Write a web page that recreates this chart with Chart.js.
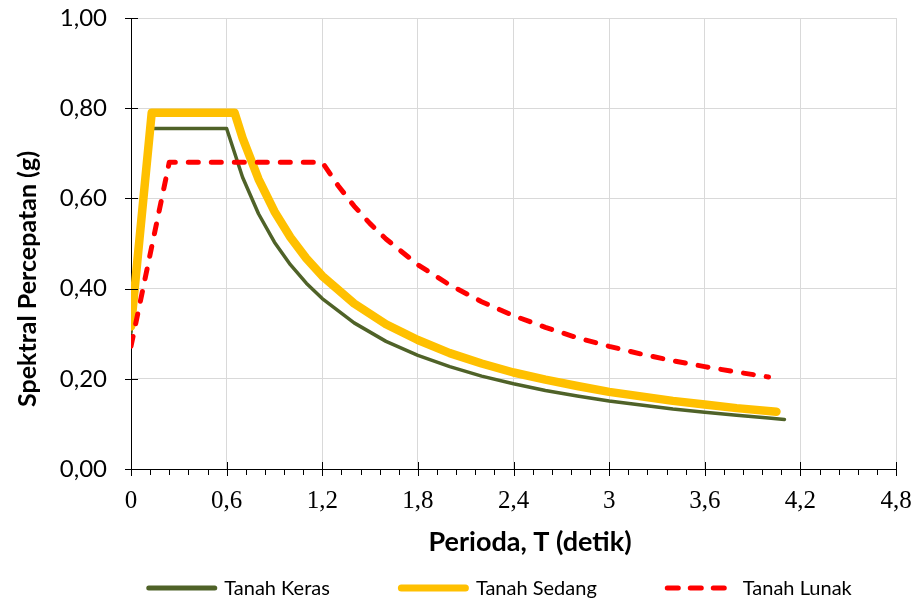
<!DOCTYPE html>
<html>
<head>
<meta charset="utf-8">
<script src="https://cdn.jsdelivr.net/npm/chart.js@4/dist/chart.umd.min.js"></script>
<style>
  html, body { margin: 0; padding: 0; background: #ffffff; }
  #wrap { width: 917px; height: 600px; }
</style>
</head>
<body>
<div id="wrap"><canvas id="c" width="917" height="600"></canvas></div>
<script>
// ---- Data ----
const seriesNames = ['Tanah Keras', 'Tanah Sedang', 'Tanah Lunak'];

const kerasT = [0, 0.12, 0.6, 0.7, 0.8, 0.9, 1.0, 1.1, 1.2, 1.4, 1.6, 1.8, 2.0, 2.2, 2.4, 2.6, 2.8, 3.0, 3.2, 3.4, 3.6, 3.8, 4.0, 4.1];
const kerasSa = [0.302, 0.755, 0.755, 0.647, 0.566, 0.503, 0.453, 0.412, 0.378, 0.324, 0.283, 0.252, 0.227, 0.206, 0.189, 0.174, 0.162, 0.151, 0.142, 0.133, 0.126, 0.119, 0.113, 0.110];

const sedangT = [0, 0.13, 0.65, 0.7, 0.8, 0.9, 1.0, 1.1, 1.2, 1.4, 1.6, 1.8, 2.0, 2.2, 2.4, 2.6, 2.8, 3.0, 3.2, 3.4, 3.6, 3.8, 4.05];
const sedangSa = [0.316, 0.790, 0.790, 0.734, 0.643, 0.571, 0.514, 0.467, 0.428, 0.367, 0.321, 0.286, 0.257, 0.234, 0.214, 0.198, 0.184, 0.171, 0.161, 0.151, 0.143, 0.135, 0.127];

const lunakT = [0, 0.24, 1.2, 1.3, 1.4, 1.5, 1.6, 1.8, 2.0, 2.2, 2.4, 2.6, 2.8, 3.0, 3.2, 3.4, 3.6, 3.8, 4.0];
const lunakSa = [0.272, 0.680, 0.680, 0.628, 0.583, 0.544, 0.510, 0.453, 0.408, 0.371, 0.340, 0.314, 0.291, 0.272, 0.255, 0.240, 0.227, 0.215, 0.204];

const xTickLabels = ['0', '0,6', '1,2', '1,8', '2,4', '3', '3,6', '4,2', '4,8'];
const yTickLabels = ['0,00', '0,20', '0,40', '0,60', '0,80', '1,00'];

const xTitle = 'Perioda, T (detik)';
const yTitle = 'Spektral Percepatan (g)';

// ---- Build chart ----
function pairs(xs, ys) { return xs.map((x, i) => ({ x: x, y: ys[i] })); }

const legendCfg = [
  { width: 5 },
  { width: 7 },
  { width: 5, dash: [11, 12] }
];

// Crossing tick marks on the axes
const tickPlugin = {
  id: 'crossTicks',
  afterDraw(chart) {
    const ctx = chart.ctx;
    const xs = chart.scales.x, ys = chart.scales.y;
    const area = chart.chartArea;
    ctx.save();
    ctx.strokeStyle = '#000000';
    ctx.lineWidth = 1;
    ctx.beginPath();
    ys.ticks.forEach(t => {
      const py = Math.round(ys.getPixelForValue(t.value)) + 0.5;
      ctx.moveTo(area.left - 6, py);
      ctx.lineTo(area.left + 7, py);
    });
    const step = 0.6;
    xs.ticks.forEach(t => {
      const px = Math.round(xs.getPixelForValue(t.value)) + 0.5;
      ctx.moveTo(px, area.bottom - 7);
      ctx.lineTo(px, area.bottom + 7);
    });
    for (let i = 0; i < xs.ticks.length - 1; i++) {
      for (let k = 1; k < 5; k++) {
        const v = xs.ticks[i].value + k * step / 5;
        const px = Math.round(xs.getPixelForValue(v)) + 0.5;
        ctx.moveTo(px, area.bottom);
        ctx.lineTo(px, area.bottom + 6);
      }
    }
    ctx.stroke();
    ctx.restore();
  }
};

// Axis titles (positioned as in the reference)
const titlePlugin = {
  id: 'axisTitles',
  afterDraw(chart) {
    const ctx = chart.ctx;
    ctx.save();
    ctx.fillStyle = '#000000';
    ctx.textAlign = 'center';
    ctx.textBaseline = 'middle';
    ctx.font = 'bold 27px Lato';
    ctx.fillText(xTitle, 530, 542);
    ctx.translate(28, 279);
    ctx.rotate(-Math.PI / 2);
    ctx.font = 'bold 25px Lato';
    ctx.fillText(yTitle, 0, 0);
    ctx.restore();
  }
};

// Custom legend at the bottom
const legendPlugin = {
  id: 'bottomLegend',
  afterDraw(chart) {
    const ctx = chart.ctx;
    ctx.save();
    ctx.font = '20px Lato';
    ctx.textBaseline = 'middle';
    const sw = 71, gapText = 7, gapItem = 68;
    const ds = chart.data.datasets;
    const widths = ds.map(d => sw + gapText + ctx.measureText(d.label).width);
    const total = widths.reduce((a, b) => a + b, 0) + gapItem * (ds.length - 1);
    let x = 499 - total / 2;
    const y = 588;
    ds.forEach((d, i) => {
      const cfg = legendCfg[i];
      ctx.beginPath();
      ctx.strokeStyle = d.borderColor;
      ctx.lineWidth = cfg.width;
      ctx.lineCap = 'round';
      ctx.setLineDash(cfg.dash || []);
      const x0 = x + cfg.width / 2, x1 = x + sw - cfg.width / 2;
      ctx.moveTo(x0, y);
      ctx.lineTo(x1, y);
      ctx.stroke();
      ctx.setLineDash([]);
      ctx.fillStyle = '#000000';
      ctx.fillText(d.label, x + sw + gapText, y + 1);
      x += widths[i] + gapItem;
    });
    ctx.restore();
  }
};

new Chart(document.getElementById('c'), {
  type: 'line',
  data: {
    datasets: [
      {
        label: seriesNames[0],
        data: pairs(kerasT, kerasSa),
        borderColor: '#4F6228',
        borderWidth: 3.5,
        order: 3
      },
      {
        label: seriesNames[1],
        data: pairs(sedangT, sedangSa),
        borderColor: '#FFC000',
        borderWidth: 8.5,
        order: 2
      },
      {
        label: seriesNames[2],
        data: pairs(lunakT, lunakSa),
        borderColor: '#FF0000',
        borderWidth: 5,
        borderDash: [10, 13],
        order: 1
      }
    ]
  },
  options: {
    responsive: false,
    animation: false,
    devicePixelRatio: 1,
    layout: { padding: { left: 0, top: 0, right: 0, bottom: 31 }, autoPadding: false },
    elements: {
      point: { radius: 0, hoverRadius: 0 },
      line: { tension: 0, fill: false, borderCapStyle: 'round', borderJoinStyle: 'round' }
    },
    plugins: {
      legend: { display: false },
      tooltip: { enabled: false }
    },
    scales: {
      x: {
        type: 'linear',
        min: 0,
        max: 4.8,
        afterFit: s => { s.height = 100; s.paddingLeft = 0; s.paddingRight = 21; },
        afterBuildTicks: s => {
          s.ticks = xTickLabels.map((_, i) => ({ value: Math.round(i * 6) / 10 }));
        },
        ticks: {
          autoSkip: false,
          maxRotation: 0,
          padding: 17,
          color: '#000000',
          font: { family: '"Liberation Serif", "Times New Roman", serif', size: 25 },
          callback: (v, i) => xTickLabels[i]
        },
        grid: { color: '#D9D9D9', lineWidth: 1, drawTicks: false },
        border: { color: '#000000', width: 1 },
        title: { display: false }
      },
      y: {
        type: 'linear',
        min: 0,
        max: 1,
        afterFit: s => { s.width = 131; s.paddingTop = 18; s.paddingBottom = 0; },
        afterBuildTicks: s => {
          s.ticks = yTickLabels.map((_, i) => ({ value: Math.round(i * 2) / 10 }));
        },
        ticks: {
          autoSkip: false,
          padding: 24,
          color: '#000000',
          font: { family: 'Lato, "Open Sans", sans-serif', size: 24 },
          callback: (v, i) => yTickLabels[i]
        },
        grid: { color: '#D9D9D9', lineWidth: 1, drawTicks: false },
        border: { color: '#000000', width: 1 },
        title: { display: false }
      }
    }
  },
  plugins: [tickPlugin, titlePlugin, legendPlugin]
});
</script>
</body>
</html>
